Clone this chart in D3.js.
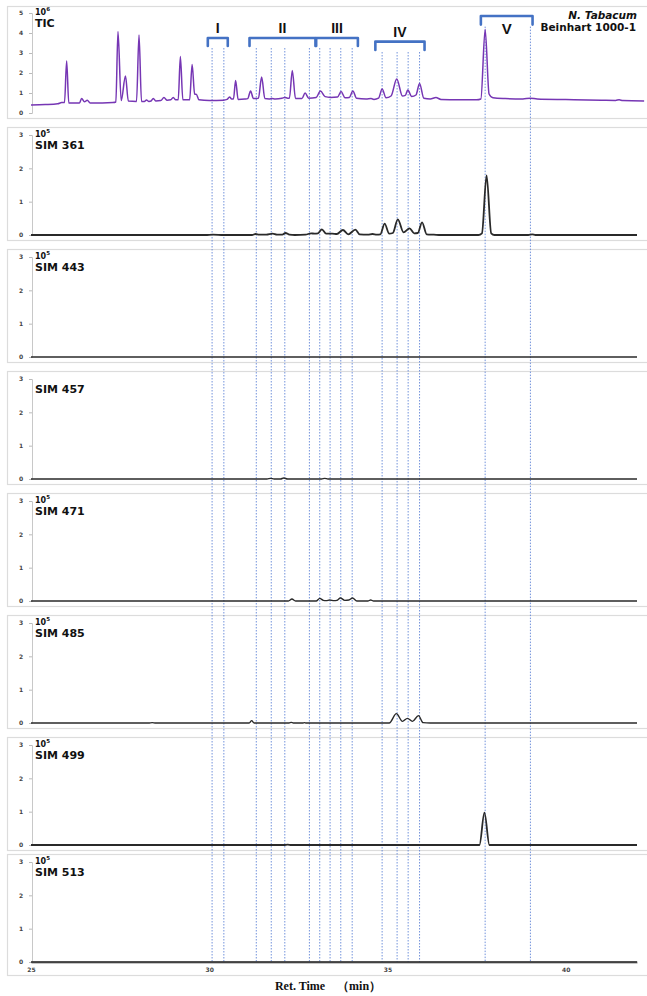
<!DOCTYPE html>
<html>
<head>
<meta charset="utf-8">
<script src="https://cdn.jsdelivr.net/npm/d3@7"></script>
<style>
  body { margin: 0; background: #fff; }
  svg { display: block; font-family: "DejaVu Sans", Verdana, sans-serif; }
</style>
</head>
<body>
<svg id="chart" width="647" height="996"></svg>
<script>
// ---- data: retention time (min) vs intensity ----
const timeTicks = [25, 30, 35, 40];
const ticTicks = [0, 1, 2, 3, 4, 5];
const simTicks = [0, 1, 2, 3];

// total ion chromatogram, intensity x10^6
const ticTrace = [
  [25.0,0.40],[25.4,0.42],[25.75,0.46],[25.86,0.52],[25.94,0.52],[26.0,2.6],[26.06,0.5],
  [26.3,0.5],[26.36,0.5],[26.42,0.72],[26.5,0.56],[26.58,0.64],[26.66,0.5],[27.0,0.5],
  [27.3,0.52],[27.38,0.55],[27.44,4.07],[27.53,0.62],[27.65,1.85],[27.73,0.6],[27.96,0.58],
  [28.03,3.9],[28.1,0.58],[28.18,0.58],[28.24,0.65],[28.31,0.58],[28.37,0.6],[28.43,0.73],
  [28.5,0.6],[28.64,0.62],[28.73,0.77],[28.82,0.64],[28.92,0.66],[28.99,0.78],[29.06,0.66],
  [29.13,0.66],[29.19,2.82],[29.26,0.66],[29.45,0.66],[29.52,2.43],[29.59,0.95],[29.64,0.93],
  [29.71,0.66],[30.0,0.63],[30.4,0.64],[30.5,0.68],[30.57,0.8],[30.63,0.7],[30.68,0.7],
  [30.74,1.63],[30.81,0.68],[31.0,0.7],[31.08,0.72],[31.16,1.1],[31.24,0.72],[31.38,0.74],
  [31.47,1.8],[31.56,0.72],[31.68,0.7],[31.76,0.73],[31.85,0.7],[32.04,0.74],[32.12,0.78],
  [32.2,0.74],[32.25,0.74],[32.33,2.13],[32.42,0.72],[32.6,0.72],[32.69,1.0],[32.79,0.74],
  [33.0,0.78],[33.12,1.1],[33.25,0.82],[33.4,0.78],[33.6,0.8],[33.7,1.07],[33.81,0.76],
  [33.93,0.78],[34.03,1.1],[34.13,0.74],[34.4,0.7],[34.54,0.72],[34.62,0.68],[34.75,0.74],
  [34.85,1.2],[34.96,0.76],[35.1,0.85],[35.26,1.7],[35.42,0.85],[35.5,0.88],[35.57,1.15],
  [35.68,0.82],[35.8,0.9],[35.9,1.48],[36.02,0.74],[36.2,0.7],[36.36,0.77],[36.5,0.68],
  [37.0,0.66],[37.5,0.66],[37.62,0.7],[37.74,4.18],[37.85,0.95],[37.96,0.76],[38.3,0.72],
  [38.8,0.7],[39.0,0.74],[39.2,0.7],[40.0,0.67],[41.0,0.64],[41.4,0.63],[41.5,0.66],
  [41.6,0.62],[42.2,0.6]
];

// selected ion monitoring traces, intensity x10^5
const sim361 = [
  [25,0],[29.9,0],[30.1,0.01],[30.4,0],[31.2,0],[31.3,0.03],[31.4,0.01],[31.6,0.01],
  [31.78,0.04],[31.9,0.01],[32.05,0.01],[32.14,0.06],[32.25,0.01],[32.4,0],[32.7,0.01],
  [32.86,0.05],[32.95,0.04],[33.05,0.05],[33.16,0.17],[33.28,0.04],[33.45,0.04],[33.58,0.03],
  [33.75,0.15],[33.9,0.02],[34.1,0.16],[34.22,0.02],[34.45,0.01],[34.58,0.03],[34.7,0.01],
  [34.8,0.02],[34.92,0.34],[35.05,0.04],[35.15,0.06],[35.29,0.47],[35.45,0.08],[35.62,0.2],
  [35.75,0.05],[35.85,0.06],[35.97,0.38],[36.1,0.02],[36.3,0.01],[36.5,0],[37.55,0],
  [37.65,0.05],[37.78,1.79],[37.91,0.05],[38.0,0],[38.95,0],[39.06,0.02],[39.15,0],[42,0]
];
const sim443 = [[25,0],[42,0]];
const sim457 = [
  [25,0],[31.62,0],[31.72,0.02],[31.82,0],[32.0,0],[32.09,0.03],[32.2,0],[33.15,0],
  [33.24,0.02],[33.33,0],[42,0]
];
const sim471 = [
  [25,0],[32.22,0],[32.32,0.06],[32.42,0],[33.0,0],[33.1,0.08],[33.2,0.02],[33.28,0.01],
  [33.38,0.03],[33.5,0.01],[33.58,0.02],[33.68,0.09],[33.8,0.02],[33.92,0.03],[34.02,0.09],
  [34.14,0],[34.45,0],[34.53,0.03],[34.61,0],[42,0]
];
const sim485 = [
  [25,0],[28.3,0],[28.4,0.01],[28.5,0],[31.12,0],[31.19,0.07],[31.26,0],[32.24,0],
  [32.3,0.02],[32.36,0],[32.62,0],[32.67,0.01],[32.72,0],[35.05,0],[35.25,0.28],[35.42,0.05],
  [35.56,0.14],[35.7,0.05],[35.87,0.22],[36.0,0.01],[36.2,0],[42,0]
];
const sim499 = [[25,0],[32.1,0],[32.2,0.01],[32.3,0],[37.58,0],[37.72,0.97],[37.86,0],[42,0]];
const sim513 = [[25,0],[42,0]];

const simNames = ["SIM 361", "SIM 443", "SIM 457", "SIM 471", "SIM 485", "SIM 499", "SIM 513"];
const simTraces = [sim361, sim443, sim457, sim471, sim485, sim499, sim513];
const simShowsExponent = [true, true, false, true, true, true, true];

// peak groups (retention-time span) and the marked peaks within them
const groupLabels = ["I", "II", "III", "IV", "V"];
const groupStart = [29.96, 31.13, 33.0, 34.66, 37.62];
const groupEnd = [30.52, 32.98, 34.17, 36.04, 39.07];
const groupBar = [3.75, 3.75, 3.75, 3.57, 4.85];      // bracket height on TIC scale
const groupHook = [3.35, 3.35, 3.35, 3.15, 4.42];
const groupLabelAt = [3.98, 3.98, 3.98, 3.78, 3.95];
const markedPeaks = [
  [30.08, 30.41],
  [31.32, 31.74, 32.12, 32.81],
  [33.10, 33.39, 33.69, 34.01],
  [34.85, 35.27, 35.58, 35.90],
  [37.74, 39.01]
];

// ---- layout ----
const svg = d3.select("#chart");
const x = d3.scaleLinear().domain([25, 42]).range([31, 637]);
const axisX = 32;
const panelLeft = 7.5, panelRight = 655;

const ticY = d3.scaleLinear().domain([0, 5]).range([113, 13]);
const simBase = [235, 357, 479, 601, 723, 845, 962];
const simY = simBase.map(b => d3.scaleLinear().domain([0, 3]).range([b, b - 100]));

const line = yScale => d3.line()
  .x(d => x(d[0]))
  .y(d => yScale(d[1]))
  .curve(d3.curveMonotoneX);

// panel frames
const frames = [{ top: 6, bottom: 118 }].concat(
  simBase.map((b, i) => ({ top: b - 108, bottom: i === simBase.length - 1 ? b + 13 : b + 5 }))
);
svg.append("g").selectAll("rect").data(frames).join("rect")
  .attr("x", panelLeft).attr("y", d => d.top + 0.5)
  .attr("width", panelRight - panelLeft).attr("height", d => d.bottom - d.top)
  .attr("fill", "#fff").attr("stroke", "#dcdcdc").attr("stroke-width", 1.2);

// y axes
function yAxis(scale, ticks) {
  const g = svg.append("g").attr("transform", `translate(${axisX},0)`)
    .call(d3.axisLeft(scale).tickValues(ticks).tickSize(3).tickPadding(8).tickFormat(d3.format("d")));
  g.select(".domain").attr("stroke", "#c8c8c8").attr("stroke-width", 1);
  g.selectAll(".tick line").attr("stroke", "#bbb");
  g.selectAll(".tick text").attr("font-size", 6).attr("font-weight", "bold")
    .attr("fill", "#444").attr("text-anchor", "middle").attr("x", -11)
    .attr("font-family", "DejaVu Sans, sans-serif");
  return g;
}
yAxis(ticY, ticTicks);
simY.forEach(s => yAxis(s, simTicks));

// x axis along the bottom panel
const lastY = simY[simY.length - 1];
const xg = svg.append("g").attr("transform", `translate(0,${lastY(0)})`)
  .call(d3.axisBottom(x).tickValues(timeTicks).tickSize(0).tickPadding(6).tickFormat(d3.format("d")));
xg.select(".domain").attr("stroke", "#8a8a8a").attr("stroke-width", 2);
xg.selectAll(".tick text").attr("font-size", 6).attr("font-weight", "bold").attr("fill", "#444")
  .attr("font-family", "DejaVu Sans, sans-serif");

// vertical dotted markers through all panels
const markerG = svg.append("g");
markedPeaks.forEach((group, gi) => {
  markerG.selectAll(null).data(group).join("line")
    .attr("x1", d => x(d)).attr("x2", d => x(d))
    .attr("y1", ticY(groupHook[gi]) + 2).attr("y2", lastY(0))
    .attr("stroke", "#5b80d6").attr("stroke-width", 1)
    .attr("stroke-dasharray", "1.5,1.5").attr("opacity", 0.85);
});

// traces
svg.append("path").datum(ticTrace)
  .attr("d", line(ticY)).attr("fill", "none")
  .attr("stroke", "#7636b4").attr("stroke-width", 1.5).attr("stroke-linejoin", "round");

simTraces.forEach((tr, i) => {
  svg.append("path").datum(tr)
    .attr("d", line(simY[i])).attr("fill", "none")
    .attr("stroke", "#2a2a2a").attr("stroke-width", i === 0 || i === 5 ? 1.8 : 1.4)
    .attr("stroke-linejoin", "round");
});

// group brackets with labels
const bracketG = svg.append("g");
groupLabels.forEach((lab, i) => {
  const x0 = x(groupStart[i]), x1 = x(groupEnd[i]);
  const yb = ticY(groupBar[i]), yh = ticY(groupHook[i]);
  bracketG.append("path")
    .attr("d", `M${x0},${yh} L${x0},${yb} L${x1},${yb} L${x1},${yh}`)
    .attr("fill", "none").attr("stroke", "#4472c4").attr("stroke-width", 2.6)
    .attr("stroke-linejoin", "round").attr("stroke-linecap", "round");
  bracketG.append("text")
    .attr("x", (x0 + x1) / 2).attr("y", ticY(groupLabelAt[i]))
    .attr("text-anchor", "middle").attr("font-weight", "bold")
    .attr("font-size", lab === "V" ? 15 : 14).attr("fill", "#111")
    .attr("font-family", "Liberation Sans, Arial, sans-serif")
    .text(lab);
});

// panel labels
function panelLabel(yScale, topValue, name, showExp, exp) {
  const yTop = yScale(topValue);
  const g = svg.append("g").attr("font-weight", "bold").attr("fill", "#111");
  if (showExp) {
    const t = g.append("text").attr("x", 35).attr("y", yTop + 1.5).attr("font-size", 8);
    t.append("tspan").text("10");
    t.append("tspan").attr("dy", -3.5).attr("font-size", 5.5).text(exp);
  }
  g.append("text").attr("x", 35).attr("y", yTop + 14).attr("font-size", 11).text(name);
}
panelLabel(ticY, 5, "TIC", true, "6");
simY.forEach((s, i) => panelLabel(s, 3, simNames[i], simShowsExponent[i], "5"));

// sample name
svg.append("text").attr("x", 637).attr("y", 19).attr("text-anchor", "end")
  .attr("font-size", 10.5).attr("font-weight", "bold").attr("font-style", "italic")
  .attr("fill", "#111").text("N. Tabacum");
svg.append("text").attr("x", 636).attr("y", 31).attr("text-anchor", "end")
  .attr("font-size", 10.5).attr("font-weight", "bold").attr("fill", "#111")
  .text("Beinhart 1000-1");

// x-axis title
svg.append("text").attr("x", 328).attr("y", 990).attr("text-anchor", "middle")
  .attr("font-family", "Liberation Serif, Times New Roman, serif")
  .attr("font-size", 12).attr("font-weight", "bold").attr("fill", "#111")
  .text("Ret. Time　（min）");
</script>
</body>
</html>
